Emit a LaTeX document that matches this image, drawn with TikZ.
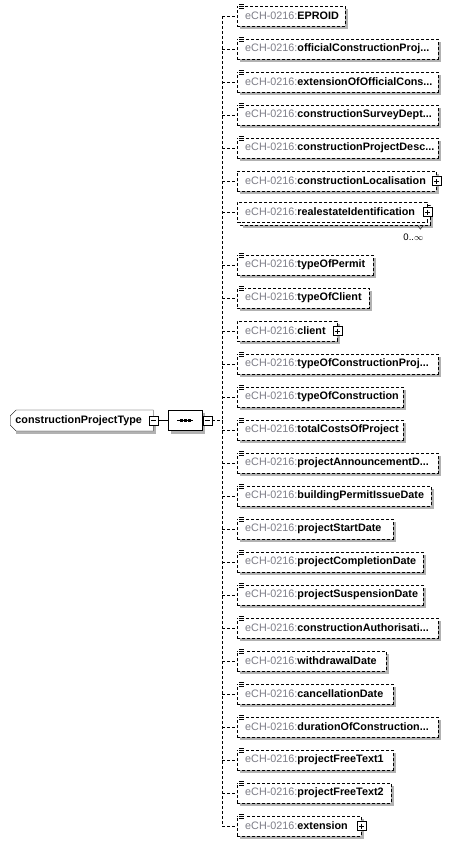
\documentclass[tikz,border=0pt]{standalone}
\usepackage{fontspec}
\setmainfont{Liberation Sans}
\usetikzlibrary{positioning,shapes.misc,backgrounds}
\definecolor{pfxgray}{RGB}{125,125,135}
\definecolor{shadowgray}{RGB}{178,178,178}
\newcommand{\ename}[1]{\mbox{\textcolor{pfxgray}{eCH-0216:}\textbf{#1}}}
\newcommand{\trunc}{...}

\begin{document}
\begin{tikzpicture}[
  x=1pt, y=-1pt,
  every node/.style={font=\fontsize{10.8}{12}\selectfont},
  elem/.style={draw,dash pattern=on 3pt off 2pt,fill=white,anchor=west,
    minimum height=20pt,inner xsep=8pt,inner ysep=0pt,align=left},
  link/.style={dash pattern=on 3pt off 2pt},
  boxshadow/.style={fill=shadowgray},
  pmbox/.style={draw,solid,fill=white,minimum size=9pt,inner sep=0pt},
  minusbox/.style={pmbox,path picture={
    \draw ([xshift=2pt]path picture bounding box.west) -- ([xshift=-2pt]path picture bounding box.east);}},
  plusbox/.style={pmbox,path picture={
    \draw ([xshift=2pt]path picture bounding box.west) -- ([xshift=-2pt]path picture bounding box.east);
    \draw ([yshift=-2pt]path picture bounding box.north) -- ([yshift=2pt]path picture bounding box.south);}},
  ctype/.style={draw,solid,fill=white,chamfered rectangle,
    chamfered rectangle corners={north west,south west},chamfered rectangle sep=3pt,
    anchor=west,minimum width=143pt,minimum height=21pt,inner sep=0pt},
  seqbox/.style={draw,solid,fill=white,chamfered rectangle,
    chamfered rectangle sep=5pt,minimum width=34pt,minimum height=20pt,inner sep=0pt}
]
\useasboundingbox (0,0) rectangle (453,846);

% complex type and sequence compositor
\node[ctype] (cpt) at (10,420.5) {\textbf{constructionProjectType}\hspace*{6pt}};
\node[minusbox] (m1) at (cpt.east) {};
\node[seqbox,right=10pt of m1] (seq) {};
\node[minusbox,right=0pt of seq] (m2) {};
\draw (m1.east) -- (seq.west);
\draw ([xshift=-8pt]seq.center) -- ([xshift=8pt]seq.center);
\foreach \dx in {-4,0,4}
  \node[fill,inner sep=0pt,minimum size=2.5pt] at ([xshift=\dx pt]seq.center) {};

\coordinate (bus) at (222,0);

% second box behind realestateIdentification (0..unbounded)
\node[elem,minimum width=190pt] (e7b) at (240,215) {};

% child elements
\foreach \n/\y/\r/\lab in {
  1/16/345/EPROID,
  2/49/438/officialConstructionProj\trunc,
  3/82/438/extensionOfOfficialCons\trunc,
  4/115/438/constructionSurveyDept\trunc,
  5/148/438/constructionProjectDesc\trunc,
  6/181/436/constructionLocalisation,
  7/212/427/realestateIdentification,
  8/265/373/typeOfPermit,
  9/298/369/typeOfClient,
  10/331/337/client,
  11/364/438/typeOfConstructionProj\trunc,
  12/397/403/typeOfConstruction,
  13/430/403/totalCostsOfProject,
  14/463/438/projectAnnouncementD\trunc,
  15/496/431/buildingPermitIssueDate,
  16/529/393/projectStartDate,
  17/562/423/projectCompletionDate,
  18/595/423/projectSuspensionDate,
  19/628/438/constructionAuthorisati\trunc,
  20/661/386/withdrawalDate,
  21/694/393/cancellationDate,
  22/727/438/durationOfConstruction\trunc,
  23/760/393/projectFreeText1,
  24/793/391/projectFreeText2,
  25/826/361/extension}{
  \pgfmathsetmacro\tw{\r-253}
  \node[elem,text width=\tw pt] (e\n) at (237,\y) {\ename{\lab}};
  \draw[link] (bus |- e\n.west) -- (e\n.west);
}

% shadows
\begin{scope}[on background layer]
  \foreach \n in {1,...,6,7b,8,9,...,25}
    \fill[boxshadow] ([shift={(3,3)}]e\n.north west) rectangle ([shift={(3,3)}]e\n.south east);
  \fill[boxshadow] ([shift={(3,3)}]cpt.north west) rectangle ([shift={(3,3)}]cpt.south east);
  \fill[boxshadow] ([shift={(3,3)}]seq.north west) rectangle ([shift={(3,3)}]seq.south east);
\end{scope}

% annotation icons
\foreach \n in {1,...,5,8,9,11,12,...,25}{
  \fill[white] ([shift={(1,-3)}]e\n.north west) rectangle ([shift={(8,3)}]e\n.north west);
  \foreach \k in {-2,0,2}
    \draw[line width=0.6pt] ([shift={(2,\k)}]e\n.north west) -- ++(5,0);
}

% expand boxes
\foreach \n in {6,7,10,25}
  \node[plusbox] (p\n) at (e\n.east) {};

% occurrence
\draw ([shift={(-13,0)}]e7b.south east) -- ++(3,4) -- ++(3,-4);
\node[font=\fontsize{9.5}{11}\selectfont] (occ) at ([shift={(-17,12)}]e7b.south east) {0..$\infty$};

% bus
\draw[link] (bus |- e1.west) -- (bus |- e25.west);
\draw[link] (m2.east) -- (bus |- m2.east);

\end{tikzpicture}
\end{document}
